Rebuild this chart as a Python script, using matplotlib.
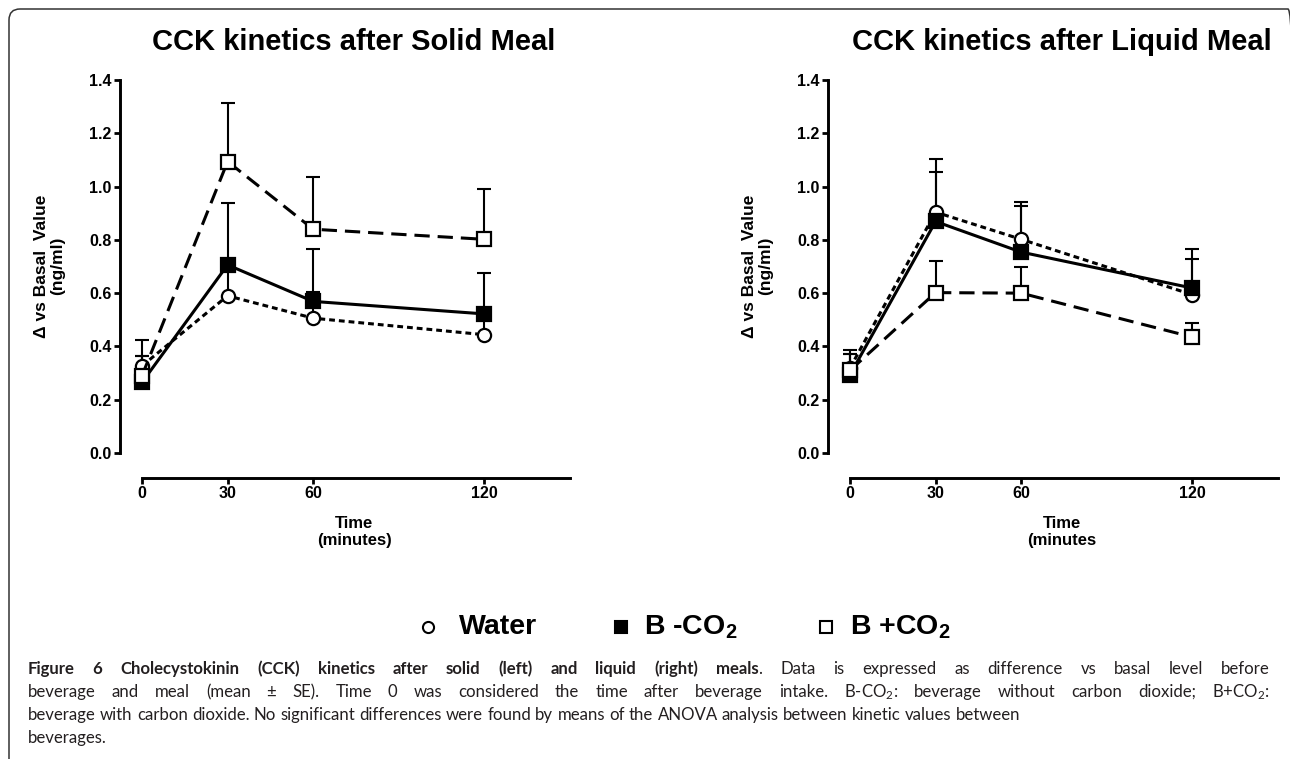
import matplotlib
matplotlib.use("Agg")
import matplotlib.pyplot as plt
from matplotlib.lines import Line2D
from matplotlib.patches import FancyBboxPatch
from matplotlib.transforms import IdentityTransform

plt.rcParams['font.family'] = ['Liberation Sans', 'DejaVu Sans']
plt.rcParams['font.weight'] = 'bold'
plt.rcParams['mathtext.default'] = 'regular'

# ---------------- data ----------------
time = [0, 30, 60, 120]
xticks = [0, 30, 60, 120]
yticks = [0.0, 0.2, 0.4, 0.6, 0.8, 1.0, 1.2, 1.4]

solid_water = [0.327, 0.590, 0.506, 0.444]
solid_water_se = [0.038, 0.115, 0.097, 0.065]
solid_bno = [0.265, 0.706, 0.569, 0.522]
solid_bno_se = [0.100, 0.234, 0.196, 0.155]
solid_bco = [0.290, 1.094, 0.840, 0.802]
solid_bco_se = [0.135, 0.218, 0.195, 0.188]

liquid_water = [0.319, 0.904, 0.802, 0.594]
liquid_water_se = [0.069, 0.200, 0.139, 0.135]
liquid_bno = [0.294, 0.869, 0.754, 0.619]
liquid_bno_se = [0.079, 0.185, 0.174, 0.146]
liquid_bco = [0.310, 0.602, 0.600, 0.435]
liquid_bco_se = [0.062, 0.120, 0.100, 0.053]

titles = ["CCK kinetics after Solid Meal", "CCK kinetics after Liquid Meal"]
xlabels = ["Time\n(minutes)", "Time\n(minutes"]
ylabel = "\u0394 vs Basal  Value\n(ng/ml)"
legend_labels = ["Water", "B -CO$_2$", "B +CO$_2$"]

# ---------------- figure ----------------
W, H = 1290, 759
fig = plt.figure(figsize=(W / 100, H / 100), dpi=100)
fig.patch.set_facecolor('white')


def fx(px):
    return px / W


def fy(py):
    return 1 - py / H


# rounded frame (clipped by the image on the right/bottom)
frame = FancyBboxPatch((9, -60), 1290, (H - 9) + 60,
                       boxstyle="round,pad=0,rounding_size=11",
                       transform=IdentityTransform(), fill=False,
                       edgecolor='#333333', linewidth=1.1)
fig.add_artist(frame)

styles = {
    'water': dict(ls=(0, (1.9, 1.3)), marker='o', mfc='white'),
    'bno': dict(ls='-', marker='s', mfc='black'),
    'bco': dict(ls=(0, (5.0, 2.6)), marker='s', mfc='white'),
}

panels = [
    (142, [(solid_water, solid_water_se, 'water'),
           (solid_bno, solid_bno_se, 'bno'),
           (solid_bco, solid_bco_se, 'bco')]),
    (850, [(liquid_water, liquid_water_se, 'water'),
           (liquid_bno, liquid_bno_se, 'bno'),
           (liquid_bco, liquid_bco_se, 'bco')]),
]

for i, (x0px, series) in enumerate(panels):
    ax = fig.add_axes([fx(x0px), fy(453), 428 / W, 373 / H])
    ax.set_xlim(0, 150)
    ax.set_ylim(0, 1.4)
    ax.patch.set_alpha(0)
    for s in ['top', 'right']:
        ax.spines[s].set_visible(False)
    ax.spines['left'].set_position(('outward', 22 * 0.72))
    ax.spines['bottom'].set_position(('outward', 25 * 0.72))
    ax.spines['left'].set_bounds(0, 1.4)
    ax.spines['bottom'].set_bounds(0, 150)
    for s in ['left', 'bottom']:
        ax.spines[s].set_linewidth(2.1)
        ax.spines[s].set_capstyle('projecting')
    ax.set_xticks(xticks)
    ax.set_yticks(yticks)
    ax.set_yticklabels([f"{v:.1f}" for v in yticks])
    ax.tick_params(direction='out', length=4.5, width=2.0, labelsize=11.5, pad=1.5)
    for lab in ax.get_xticklabels() + ax.get_yticklabels():
        lab.set_fontweight('bold')

    for mean, se, key in series:
        st = styles[key]
        ax.errorbar(time, mean, yerr=[[0] * len(se), se], fmt='none', ecolor='black',
                    elinewidth=1.5, capsize=4.8, capthick=1.5, clip_on=False, zorder=3)
        ax.plot(time, mean, color='black', linestyle=st['ls'], linewidth=2.2,
                marker=st['marker'], markersize=9.5, markerfacecolor=st['mfc'],
                markeredgecolor='black', markeredgewidth=1.6, clip_on=False, zorder=4)

    cx = x0px + 212
    fig.text(fx(cx), fy(42), titles[i], ha='center', va='center',
             fontsize=21, fontweight='bold')
    fig.text(fx(cx), fy(532), xlabels[i], ha='center', va='center',
             fontsize=12, fontweight='bold', linespacing=1.25, multialignment='center')
    fig.text(fx(x0px - 92), fy(266), ylabel, ha='center', va='center', rotation=90,
             fontsize=12.5, fontweight='bold', linespacing=1.1, multialignment='center')

# ---------------- legend ----------------
leg_marker_x = [428, 621, 826]
leg_text_x = [459, 644, 850]
leg_styles = ['water', 'bno', 'bco']
for mx, tx, key, lab in zip(leg_marker_x, leg_text_x, leg_styles, legend_labels):
    st = styles[key]
    fig.add_artist(Line2D([fx(mx)], [fy(627)], transform=fig.transFigure,
                          marker=st['marker'], markersize=8, markerfacecolor=st['mfc'],
                          markeredgecolor='black', markeredgewidth=1.5, linestyle='none'))
    fig.text(fx(tx), fy(627), lab, ha='left', va='center', fontsize=20.5, fontweight='bold')

# ---------------- caption ----------------
cap_family = ['Lato', 'DejaVu Sans']
cap_color = '#231f20'
renderer = fig.canvas.get_renderer()


def seg_width(s, wt, size):
    t = fig.text(0, 0, s, fontsize=size, fontweight=wt, family=cap_family)
    w = t.get_window_extent(renderer).width
    t.remove()
    return w


def to_words(segments):
    words = []
    for text, wt in segments:
        parts = text.split(' ')
        for k, p in enumerate(parts):
            if p == '':
                continue
            if k == 0 and words and not text.startswith(' '):
                words[-1].append((p, wt))
            else:
                words.append([(p, wt)])
    return words


line1 = [("Figure 6 Cholecystokinin (CCK) kinetics after solid (left) and liquid (right) meals", 'bold'),
         (". Data is expressed as difference vs basal level before", 'normal')]
line2 = [("beverage and meal (mean \u00b1 SE). Time 0 was considered the time after beverage intake. "
          "B-CO$_2$: beverage without carbon dioxide; B+CO$_2$:", 'normal')]
line3 = [("beverage with carbon dioxide. No significant differences were found by means of the ANOVA "
          "analysis between kinetic values between", 'normal')]
line4 = [("beverages.", 'normal')]

# calibrate caption size from the natural width of the third line
base = 10.0
w3 = sum(sum(seg_width(p, wt, base) for p, wt in w) for w in to_words(line3))
sp = seg_width("a a", 'normal', base) - seg_width("aa", 'normal', base)
w3 += sp * (len(to_words(line3)) - 1)
cap_size = base * 990.0 / w3

x_left, x_right = 28, 1270
for segs, ypx, justify in [(line1, 674, True), (line2, 697, True),
                           (line3, 720, False), (line4, 743, False)]:
    words = to_words(segs)
    widths = []
    for w in words:
        widths.append([seg_width(p, wt, cap_size) for p, wt in w])
    total = sum(sum(ws) for ws in widths)
    space = seg_width("a a", 'normal', cap_size) - seg_width("aa", 'normal', cap_size)
    gap = (x_right - x_left - total) / (len(words) - 1) if justify else space
    x = x_left
    for w, ws in zip(words, widths):
        for (p, wt), pw in zip(w, ws):
            fig.text(fx(x), fy(ypx), p, fontsize=cap_size, fontweight=wt, family=cap_family,
                     ha='left', va='baseline', color=cap_color)
            x += pw
        x += gap

fig.savefig("out.png", dpi=100)
